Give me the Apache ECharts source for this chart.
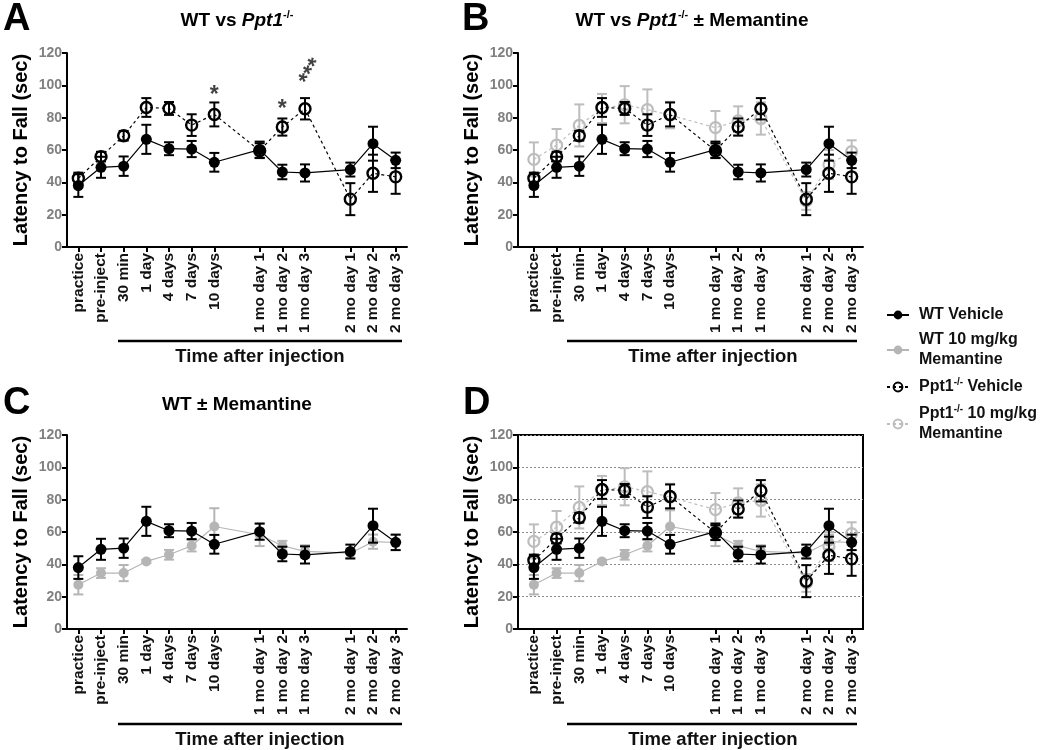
<!DOCTYPE html>
<html><head><meta charset="utf-8">
<script src="https://cdn.jsdelivr.net/npm/echarts@6/dist/echarts.min.js"></script>
<style>html,body{margin:0;padding:0;background:#fff}#c{width:1050px;height:750px}</style>
</head><body><div id="c"></div><script>
// ---- data ----
const timeLabels = ['practice','pre-inject','30 min','1 day','4 days','7 days','10 days','',
  '1 mo day 1','1 mo day 2','1 mo day 3','','2 mo day 1','2 mo day 2','2 mo day 3'];
const yTicks = [0,20,40,60,80,100,120];
const wtVehMean   = [38,49.3,50,66.6,60.8,60.6,52.4,60.2,46.4,45.8,47.9,63.9,53.6];
const wtVehErr    = [7,6.5,6,9,4,5,5.8,5,4.5,5.3,4.3,10.5,4.8];
const wtMemMean   = [27.4,34.6,34.6,41.8,45.9,51.5,63.4,58.3,51.5,48,46.9,54,53.5];
const wtMemErr    = [6,3,5,1,3,3.5,11.3,7,3,3.8,3,4.4,4.6];
const ppt1VehMean = [42.5,55.9,68.8,86.3,85.7,75.4,82,59.6,74.2,85.5,29.6,45.6,43.4];
const ppt1VehErr  = [3.5,3,3,5.8,4,6.7,7.4,4.6,5.3,6.6,9.9,11.5,10.5];
const ppt1MemMean = [54.2,63,75.2,85.7,88,85,81.6,73.8,78,79.5,28.5,51,59];
const ppt1MemErr  = [10.5,10,13,9,11.5,12.5,8.2,10.3,9,10,5.5,9,7];
const starTimes  = ['10 days','1 mo day 2','1 mo day 3'];
const starValues = [98, 89, 107];
const starTexts  = ['*','*','***'];

// ---- build ----
const xs = [];
timeLabels.forEach((l,i)=>{ if(l) xs.push(i); });
const FONT = 'Liberation Sans, Arial, sans-serif';
const pts  = m => m.map((v,i)=>[xs[i], v]);
const errs = (m,e) => m.map((v,i)=>[xs[i], v-e[i], v+e[i]]);

function errRender(color, lw){
  return function(params, api){
    const x = api.value(0);
    const pLo = api.coord([x, api.value(1)]), pHi = api.coord([x, api.value(2)]);
    const h = 5, st = {stroke:color, lineWidth:lw};
    return {type:'group', children:[
      {type:'line', shape:{x1:pLo[0],y1:pLo[1],x2:pHi[0],y2:pHi[1]}, style:st},
      {type:'line', shape:{x1:pHi[0]-h,y1:pHi[1],x2:pHi[0]+h,y2:pHi[1]}, style:st},
      {type:'line', shape:{x1:pLo[0]-h,y1:pLo[1],x2:pLo[0]+h,y2:pLo[1]}, style:st}
    ]};
  };
}

const S = {
  wtVeh:  {name:'WT Vehicle', mean:wtVehMean, err:wtVehErr, z:6, color:'#000', dash:'solid', fill:'#000', size:11, bw:0},
  wtMem:  {name:'WT 10 mg/kg Memantine', mean:wtMemMean, err:wtMemErr, z:2, color:'#b5b5b5', dash:'solid', fill:'#b5b5b5', size:10, bw:0},
  ppt1Veh:{name:'Ppt1-/- Vehicle', mean:ppt1VehMean, err:ppt1VehErr, z:4, color:'#000', dash:[3,3], fill:'rgba(255,255,255,0)', size:11, bw:2.4},
  ppt1Mem:{name:'Ppt1-/- 10 mg/kg Memantine', mean:ppt1MemMean, err:ppt1MemErr, z:1, color:'#bdbdbd', dash:[3,3], fill:'rgba(255,255,255,0)', size:11, bw:2.2}
};

const series = [];
function addGroup(gi, key){
  const s = S[key];
  series.push({type:'custom', xAxisIndex:gi, yAxisIndex:gi, renderItem:errRender(s.color, 2),
    data:errs(s.mean, s.err), encode:{x:0, y:[1,2]}, z:s.z, silent:true});
  series.push({type:'line', name:s.name, xAxisIndex:gi, yAxisIndex:gi, data:pts(s.mean),
    symbol:'circle', symbolSize:s.size, z:s.z+1,
    lineStyle:{color:s.color, width:1.2, type:s.dash},
    itemStyle:{color:s.fill, borderColor:s.color, borderWidth:s.bw}});
}
addGroup(0,'ppt1Veh'); addGroup(0,'wtVeh');
addGroup(1,'ppt1Mem'); addGroup(1,'ppt1Veh'); addGroup(1,'wtVeh');
addGroup(2,'wtMem'); addGroup(2,'wtVeh');
addGroup(3,'ppt1Mem'); addGroup(3,'wtMem'); addGroup(3,'ppt1Veh'); addGroup(3,'wtVeh');

series.push({type:'scatter', xAxisIndex:0, yAxisIndex:0, symbolSize:1, itemStyle:{color:'rgba(0,0,0,0)'}, z:10,
  data: starTimes.map((t,i)=>({value:[timeLabels.indexOf(t), starValues[i]],
    label:{formatter:starTexts[i], rotate: i===2 ? 60 : 0, offset: i===2 ? [5,5] : [0,7]}})),
  label:{show:true, position:'inside', fontSize:23, fontWeight:'bold', color:'#111', fontFamily:FONT}});

const grids = [
  {left:67, top:53, width:340, height:194},
  {left:518, top:53, width:345, height:194},
  {left:67, top:435, width:340, height:194},
  {left:518, top:435, width:345, height:194, show:true, borderColor:'#000', borderWidth:2, backgroundColor:'transparent'}
];
const xMins = [-0.5, -0.7, -0.5, -0.7];
const xAxes = grids.map((g,gi)=>({type:'value', gridIndex:gi, min:xMins[gi], max:14.5,
  axisLine:{onZero:false, lineStyle:{color:'#000', width:2}}, splitLine:{show:false},
  axisTick:{customValues:xs, length:5, lineStyle:{color:'#000', width:2}},
  axisLabel:{customValues:xs, rotate:90, margin:6, formatter:v=>timeLabels[Math.round(v)],
    fontSize:15.5, fontWeight:'bold', color:'#111', fontFamily:FONT}}));
const yAxes = grids.map((g,gi)=>({type:'value', gridIndex:gi, min:yTicks[0], max:yTicks[yTicks.length-1], interval:20,
  name:'Latency to Fall (sec)', nameLocation:'middle', nameGap:36,
  nameTextStyle:{fontSize:20, fontWeight:'bold', color:'#000', fontFamily:FONT},
  axisLine:{show:true, onZero:false, lineStyle:{color:'#000', width:2}},
  axisTick:{show:true, length:5, lineStyle:{color:'#000', width:2}},
  axisLabel:{fontSize:14, fontWeight:'bold', color:'#808080', margin:5, fontFamily:FONT},
  splitLine:{show: gi===3, lineStyle:{type:[2,2], color:'#8a8a8a', width:1}}}));

const bold = {fontSize:18.5, fontWeight:'bold', fill:'#111', fontFamily:FONT};
const titleRich = {
  a:{fontSize:19, fontWeight:'bold', color:'#111', fontFamily:FONT, lineHeight:24},
  i:{fontSize:19, fontWeight:'bold', fontStyle:'italic', color:'#111', fontFamily:FONT, lineHeight:24},
  s:{fontSize:11, fontWeight:'bold', color:'#111', fontFamily:FONT, verticalAlign:'top', lineHeight:13}
};
function letter(t,x,y){ return {type:'text', left:x, top:y, style:{text:t, fontSize:38, fontWeight:'bold', fill:'#000', fontFamily:FONT}}; }
function title(text,cx,cy){ return {type:'text', x:cx, y:cy, style:{text:text, rich:titleRich, align:'center', verticalAlign:'middle'}}; }
function timeBar(x1,x2,y,tx,ty){
  return [{type:'line', shape:{x1:x1,y1:y,x2:x2,y2:y}, style:{stroke:'#000', lineWidth:2.5}},
          {type:'text', x:tx, y:ty, style:Object.assign({text:'Time after injection', align:'center', verticalAlign:'middle'}, bold)}];
}
const graphic = [
  letter('A',3,1), letter('B',462,1), letter('C',3,385), letter('D',463,385),
  title('{a|WT vs }{i|Ppt1}{s|-/-}',237,21),
  title('{a|WT vs }{i|Ppt1}{s|-/-}{a| ± Memantine}',692,21),
  title('{a|WT ± Memantine}',237,405),
  ...timeBar(118,402,341,260,357),
  ...timeBar(567,857,341,713,357),
  ...timeBar(118,402,724,260,740),
  ...timeBar(567,857,724,713,740)
];

const legendRich = {
  b:{fontSize:16, fontWeight:'bold', color:'#111', fontFamily:FONT, lineHeight:20},
  s:{fontSize:10, fontWeight:'bold', color:'#111', fontFamily:FONT, verticalAlign:'top', lineHeight:12}
};
const legendText = {
  'WT Vehicle':'{b|WT Vehicle}',
  'WT 10 mg/kg Memantine':'{b|WT 10 mg/kg}\n{b|Memantine}',
  'Ppt1-/- Vehicle':'{b|Ppt1}{s|-/-}{b| Vehicle}',
  'Ppt1-/- 10 mg/kg Memantine':'{b|Ppt1}{s|-/-}{b| 10 mg/kg}\n{b|Memantine}'
};

const chart = echarts.init(document.getElementById('c'), null, {renderer:'canvas'});
chart.setOption({
  animation:false,
  textStyle:{fontFamily:FONT},
  grid:grids, xAxis:xAxes, yAxis:yAxes, series:series, graphic:graphic,
  legend:{orient:'vertical', left:881, top:302, itemGap:9, itemWidth:22, itemHeight:11,
    data:[S.wtVeh.name, S.wtMem.name, S.ppt1Veh.name, S.ppt1Mem.name],
    formatter:n=>legendText[n], textStyle:{rich:legendRich, padding:[0,0,0,5]}, selectedMode:false}
});
</script></body></html>
